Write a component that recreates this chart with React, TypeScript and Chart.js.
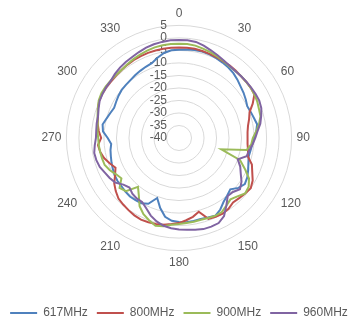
import React, { useEffect, useRef } from 'react';
import { Chart, registerables } from 'chart.js';

Chart.register(...registerables);

// Angles (degrees) of the measured points
const ANGLES = [
  0, 5, 10, 15, 20, 25, 30, 35, 40, 45, 50, 55,
  60, 65, 70, 75, 80, 85, 90, 95, 100, 105, 110, 115,
  120, 125, 130, 135, 140, 145, 150, 155, 160, 165, 170, 175,
  180, 185, 190, 195, 200, 205, 210, 215, 220, 225, 230, 235,
  240, 245, 250, 255, 260, 265, 270, 275, 280, 285, 290, 295,
  300, 305, 310, 315, 320, 325, 330, 335, 340, 345, 350, 355,
];
const SHOWN_ANGLE_LABELS = ['0', '30', '60', '90', '120', '150', '180', '210', '240', '270', '300', '330'];

const RADIAL_MIN = -40;
const RADIAL_MAX = 5;
const RADIAL_STEP = 5;

const SERIES_NAMES = ['617MHz', '800MHz', '900MHz', '960MHz'];

const S617 = [
  -4.7, -4.5, -4.3, -4.2, -4.4, -4.8, -5.2, -5.6, -6.2, -7, -7.9, -8.5,
  -9.2, -9.9, -9.5, -9, -8.3, -9, -10, -10.6, -11, -11.2, -10.5, -9.5,
  -8.5, -7.9, -9, -11, -10, -8.9, -7, -5.7, -6.2, -6.5, -6.3, -6.2,
  -6.4, -6.8, -8, -11, -14.5, -11, -9.9, -9.7, -9.5, -9.7, -10, -10,
  -10.3, -10.8, -11.3, -11.8, -12.2, -12.8, -11.5, -9.5, -9, -10, -10.8, -11.4,
  -11, -10.5, -10.1, -10, -9.8, -9.4, -9, -8.6, -8.2, -6.8, -5.5, -4.8,
];
const S800 = [
  -3.8, -3.8, -3.8, -4, -4.2, -4.4, -4.6, -4.6, -4.8, -5, -5, -5,
  -5.2, -7.5, -10, -11, -12, -12.5, -12.6, -12.5, -12, -11.5, -9, -7.7,
  -6, -5, -5.5, -6, -6.4, -5.5, -5.1, -5.3, -5.6, -9.5, -8, -7,
  -6, -5.5, -4.8, -4.4, -4.2, -4, -4.3, -4.8, -5.3, -5.8, -7, -8.4,
  -10.5, -12, -10.5, -9, -8, -7.5, -8.9, -7.8, -7, -6.5, -5.5, -4.8,
  -4.6, -4.6, -4.7, -4.6, -4.4, -4.2, -4, -3.9, -3.8, -3.8, -3.8, -3.8,
];
const S900 = [
  -2.3, -2.3, -2.5, -3, -3.5, -4, -4.5, -5, -5, -5, -5, -5,
  -5.2, -5.5, -6, -6.3, -7.5, -9, -10.5, -11, -12.5, -22.5, -14, -11,
  -7.7, -6, -5.5, -7, -8, -7, -5.8, -5.7, -6, -6.2, -6, -5.9,
  -5.6, -5.2, -4.2, -3.7, -5, -6.4, -8.5, -12, -14.5, -10, -9, -11.9,
  -11, -9.5, -8.4, -8.2, -8, -7.8, -7.7, -7.3, -7, -6.3, -5.5, -4.6,
  -4.2, -4.2, -4.3, -4.4, -4.4, -4, -3.6, -3.2, -2.8, -2.5, -2.4, -2.3,
];
const S960 = [
  -0.8, -0.8, -1, -1.8, -2.7, -3.5, -4.2, -4.8, -5, -5, -4.9, -4.8,
  -4.7, -4.6, -5, -6, -7, -8.5, -9.5, -10.5, -11.5, -12, -15, -13,
  -11.5, -9.5, -8.2, -9.5, -9.7, -7, -4, -2.5, -2.3, -2.3, -2.8, -3.2,
  -3.4, -3.8, -4.4, -5.5, -7, -9, -10.5, -10.5, -11, -12, -11, -8.9,
  -8, -7.3, -6.3, -5.8, -5.6, -6.2, -6.8, -6.8, -6.6, -6.5, -5.8, -5,
  -4.7, -4.5, -4.4, -3.8, -3.3, -2.9, -2.6, -2.1, -1.6, -1.2, -1, -0.8,
];

const SERIES_DATA = [S617, S800, S900, S960];
const COLORS = ['#4F81BD', '#C0504D', '#9BBB59', '#8064A2'];

const TEXT_COLOR = '#595959';
const GRID_COLOR = '#D9D9D9';
const FONT_FAMILY = '"Liberation Sans", Arial, sans-serif';

const tickLabelPlugin = {
  id: 'radialTickLabels',
  beforeDatasetsDraw(chart: any) {
    const s = chart.scales.r;
    const ctx = chart.ctx;
    ctx.save();
    ctx.font = `12px ${FONT_FAMILY}`;
    ctx.fillStyle = TEXT_COLOR;
    ctx.textAlign = 'right';
    ctx.textBaseline = 'middle';
    s.ticks.forEach((t: any) => {
      const d = s.getDistanceFromCenterForValue(t.value);
      ctx.fillText(String(t.value), s.xCenter - 12, s.yCenter - d);
    });
    ctx.restore();
  },
};

export default function App() {
  const ref = useRef<HTMLCanvasElement | null>(null);

  useEffect(() => {
    document.body.style.margin = '0';
    const canvas = ref.current;
    if (!canvas) return;
    const labels = ANGLES.map((a) => (SHOWN_ANGLE_LABELS.includes(String(a)) ? String(a) : ''));
    const chart = new Chart(canvas, {
      type: 'radar',
      data: {
        labels,
        datasets: SERIES_NAMES.map((name, i) => ({
          label: name,
          data: SERIES_DATA[i],
          borderColor: COLORS[i],
          backgroundColor: COLORS[i],
          borderWidth: 2,
          pointRadius: 0,
          pointHoverRadius: 0,
          fill: false,
          tension: 0,
          order: SERIES_NAMES.length - i,
        })),
      },
      options: {
        responsive: false,
        animation: false,
        devicePixelRatio: 1,
        layout: { padding: { top: 6, left: 0, right: 0, bottom: 0 } },
        plugins: {
          tooltip: { enabled: false },
          legend: {
            position: 'bottom',
            title: { display: true, text: '', padding: { top: 13.6, bottom: 0 } },
            labels: {
              usePointStyle: true,
              pointStyle: 'line',
              pointStyleWidth: 27,
              boxHeight: 12,
              padding: 9,
              color: TEXT_COLOR,
              font: { size: 12, family: FONT_FAMILY },
              sort: (a: any, b: any) => a.datasetIndex - b.datasetIndex,
            },
          },
        },
        scales: {
          r: {
            min: RADIAL_MIN,
            max: RADIAL_MAX,
            beginAtZero: false,
            ticks: { stepSize: RADIAL_STEP, display: false },
            grid: { circular: true, color: GRID_COLOR, lineWidth: 1 },
            angleLines: { display: false },
            pointLabels: {
              color: TEXT_COLOR,
              font: { size: 12, family: FONT_FAMILY },
              padding: 5,
            },
          },
        },
      },
      plugins: [tickLabelPlugin],
    } as any);
    return () => chart.destroy();
  }, []);

  return (
    <div style={{ width: 358, height: 324, overflow: 'hidden' }}>
      <canvas ref={ref} width={358} height={329} style={{ display: 'block' }} />
    </div>
  );
}
